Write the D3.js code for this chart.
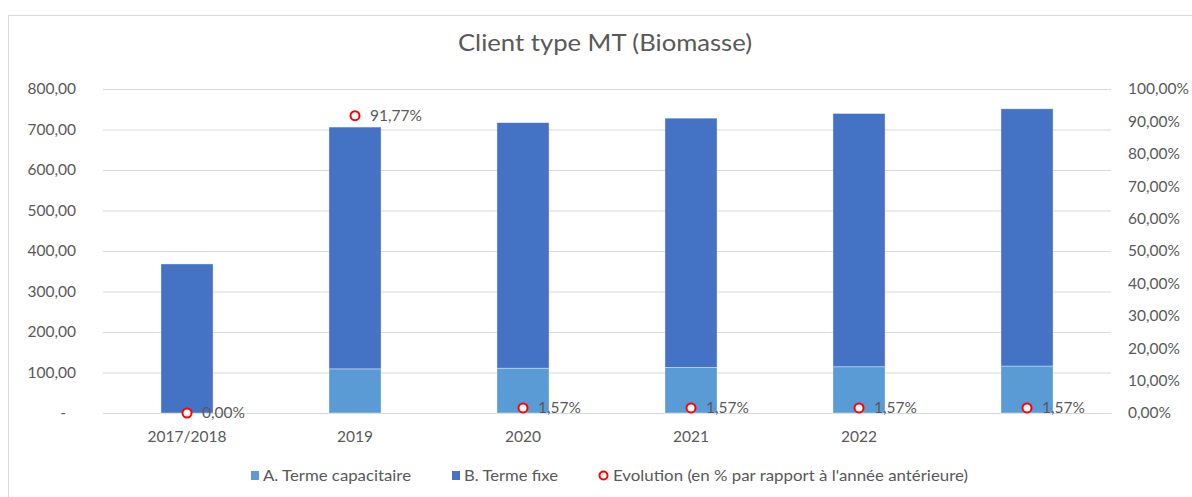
<!DOCTYPE html>
<html>
<head>
<meta charset="utf-8">
<script src="https://d3js.org/d3.v7.min.js"></script>
<style>
body { margin: 0; background: #fff; }
text { font-family: Lato, "Open Sans", sans-serif; fill: #595959; }
</style>
</head>
<body>
<script>
// Donnees du graphique
var annees = ["2017/2018", "2019", "2020", "2021", "2022", ""];
var termeCapacitaire = [0, 109, 110.7, 112.4, 114.2, 116];
var termeFixe = [368, 597, 606.1, 615.6, 625.3, 635.1];
var evolution = [0, 0.9177, 0.0157, 0.0157, 0.0157, 0.0157];
var ticksGauche = [0, 100, 200, 300, 400, 500, 600, 700, 800];
var ticksDroite = [0, 0.1, 0.2, 0.3, 0.4, 0.5, 0.6, 0.7, 0.8, 0.9, 1];
var series = ["A. Terme capacitaire", "B. Terme fixe", "Evolution (en % par rapport à l'année antérieure)"];

// zone du graphique (pas de "top" : deja pris par window.top)
var W = 1192, H = 497;
var zGauche = 103, zDroite = 1111, zHaut = 89, zBas = 413;

var svg = d3.select("body").append("svg")
  .attr("width", W)
  .attr("height", H);

// cadre du graphique
svg.append("rect")
  .attr("x", 8.5).attr("y", 15.5)
  .attr("width", 1300).attr("height", 600)
  .attr("fill", "#fff")
  .attr("stroke", "#d9d9d9");

var x = d3.scaleBand().domain(annees).range([zGauche, zDroite])
  .paddingInner(0.69).paddingOuter(0.345);
var y = d3.scaleLinear().domain([0, 800]).range([zBas, zHaut]);
var y2 = d3.scaleLinear().domain([0, 1]).range([zBas, zHaut]);

var fmt = function(v) { return v.toFixed(2).replace(".", ","); };
var fmtPct = function(v) { return (v * 100).toFixed(2).replace(".", ",") + "%"; };

// titre
svg.append("text")
  .attr("x", 605).attr("y", 51)
  .attr("text-anchor", "middle")
  .attr("textLength", 294)
  .attr("lengthAdjust", "spacingAndGlyphs")
  .style("font-size", "23px")
  .text("Client type MT (Biomasse)");

// lignes de grille
svg.append("g")
  .attr("transform", "translate(" + zGauche + ",0)")
  .call(d3.axisLeft(y).tickValues(ticksGauche).tickSize(-(zDroite - zGauche)).tickFormat(""))
  .call(function(g) {
    g.select(".domain").remove();
    g.selectAll("line").attr("stroke", "#d9d9d9");
  });

// axe gauche
svg.append("g")
  .attr("transform", "translate(76,0)")
  .call(d3.axisLeft(y).tickValues(ticksGauche).tickSize(0)
    .tickFormat(function(d) { return d === 0 ? "-" : fmt(d); }))
  .call(function(g) {
    g.select(".domain").remove();
    g.selectAll("text").attr("fill", "#595959").style("font-size", "15.5px")
      .attr("x", function(d) { return d === 0 ? -10 : 0; });
  });

// axe droit
svg.append("g")
  .attr("transform", "translate(1128,0)")
  .call(d3.axisRight(y2).tickValues(ticksDroite).tickSize(0).tickFormat(fmtPct))
  .call(function(g) {
    g.select(".domain").remove();
    g.selectAll("text").attr("fill", "#595959").style("font-size", "15.5px").attr("x", 0);
  });

// axe x
svg.append("g")
  .attr("transform", "translate(0," + zBas + ")")
  .call(d3.axisBottom(x).tickSize(0))
  .call(function(g) {
    g.select(".domain").attr("stroke", "#d9d9d9");
    g.selectAll("text").attr("fill", "#595959").style("font-size", "15.5px").attr("y", 18);
  });

// barres empilees
var barres = annees.map(function(a, i) {
  return { annee: a, a: termeCapacitaire[i], b: termeFixe[i] };
});
svg.selectAll(".barA")
  .data(barres)
  .enter().append("rect")
  .attr("class", "barA")
  .attr("x", function(d) { return x(d.annee); })
  .attr("width", x.bandwidth())
  .attr("y", function(d) { return y(d.a); })
  .attr("height", function(d) { return y(0) - y(d.a); })
  .attr("fill", "#5b9bd5")
  .attr("stroke", "#fff").attr("stroke-opacity", 0.5).attr("stroke-width", 0.75);
svg.selectAll(".barB")
  .data(barres)
  .enter().append("rect")
  .attr("class", "barB")
  .attr("x", function(d) { return x(d.annee); })
  .attr("width", x.bandwidth())
  .attr("y", function(d) { return y(d.a + d.b); })
  .attr("height", function(d) { return y(d.a) - y(d.a + d.b); })
  .attr("fill", "#4472c4")
  .attr("stroke", "#fff").attr("stroke-opacity", 0.5).attr("stroke-width", 0.75);

// evolution (marqueurs sur l'axe droit)
var pts = annees.map(function(a, i) { return { annee: a, v: evolution[i] }; });
svg.selectAll(".evo")
  .data(pts)
  .enter().append("circle")
  .attr("class", "evo")
  .attr("cx", function(d) { return x(d.annee) + x.bandwidth() / 2; })
  .attr("cy", function(d) { return y2(d.v); })
  .attr("r", 4.5)
  .attr("fill", "#fff")
  .attr("stroke", "#ff0000")
  .attr("stroke-width", 2);
svg.selectAll(".evoLabel")
  .data(pts)
  .enter().append("text")
  .attr("class", "evoLabel")
  .attr("x", function(d) { return x(d.annee) + x.bandwidth() / 2 + 15; })
  .attr("y", function(d) { return y2(d.v); })
  .attr("dy", "0.35em")
  .style("font-size", "15.5px")
  .text(function(d) { return fmtPct(d.v); });

// legende
var legende = svg.append("g");
var legX = [251, 452, 599];
var legW = [148, 94, 355];
legende.append("rect").attr("x", legX[0]).attr("y", 471).attr("width", 8).attr("height", 9).attr("fill", "#5b9bd5");
legende.append("rect").attr("x", legX[1]).attr("y", 471).attr("width", 8).attr("height", 9).attr("fill", "#4472c4");
legende.append("circle").attr("cx", legX[2] + 4.5).attr("cy", 475.5).attr("r", 4)
  .attr("fill", "#fff").attr("stroke", "#ff0000").attr("stroke-width", 2);
series.forEach(function(s, i) {
  legende.append("text")
    .attr("x", legX[i] + (i == 2 ? 14 : 12))
    .attr("y", 475.5)
    .attr("dy", "0.35em")
    .attr("textLength", legW[i])
    .attr("lengthAdjust", "spacingAndGlyphs")
    .style("font-size", "16px")
    .text(s);
});
</script>
</body>
</html>
